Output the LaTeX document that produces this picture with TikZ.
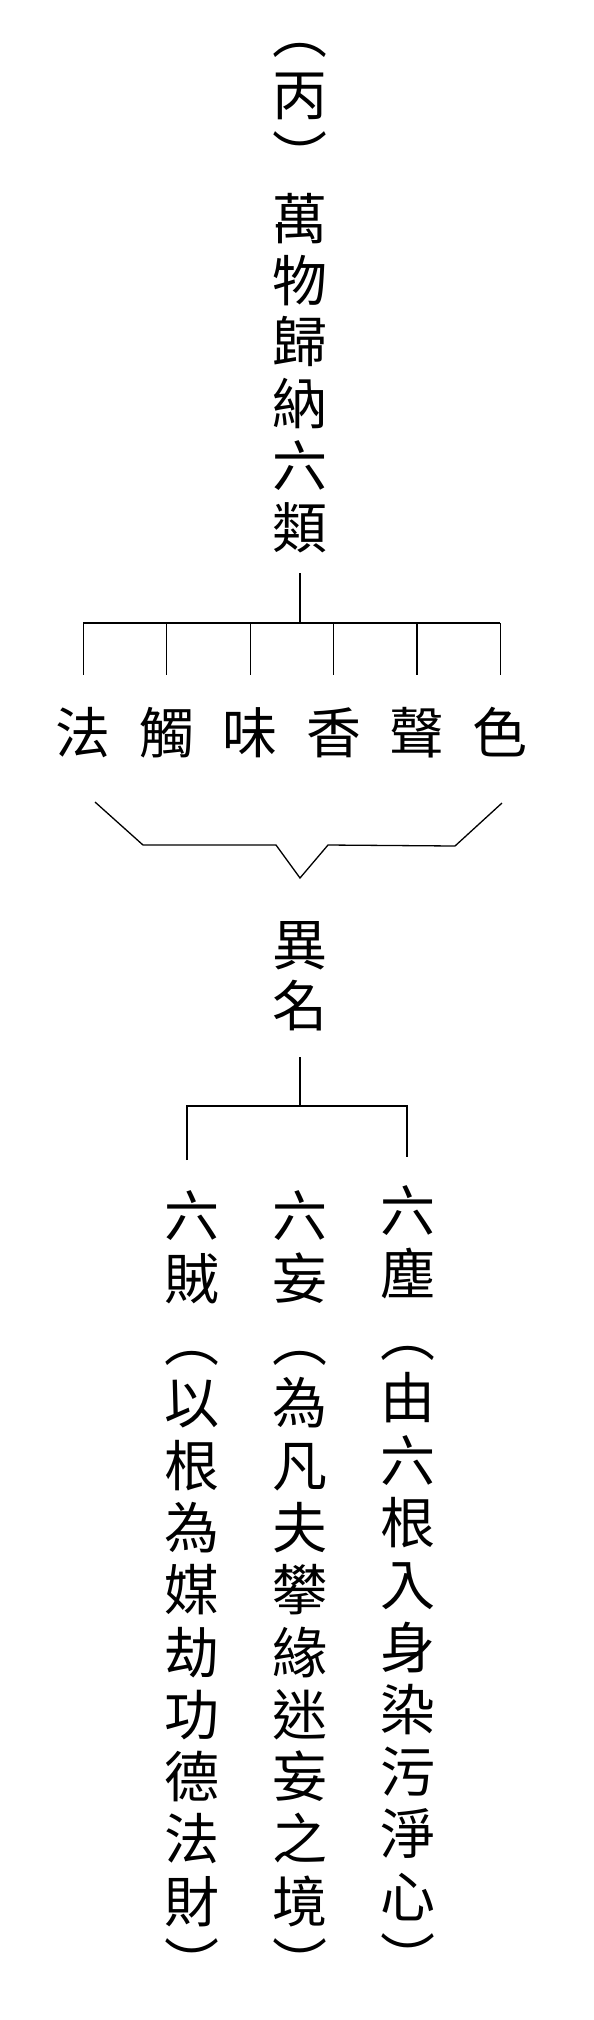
\documentclass[tikz,border=0pt]{standalone}
\usepackage{fontspec}
\usepackage{tikz}
\newfontfamily\cjk{Noto Sans CJK TC}

\begin{document}
\begin{tikzpicture}[x=0.5pt,y=-0.5pt,
    zi/.style={font=\cjk\fontsize{27.5pt}{31pt}\selectfont, inner sep=0pt,
               text height=24.2pt, text depth=3.3pt},
    line/.style={line width=0.65pt}]

    \useasboundingbox (0,0) rectangle (594,2020);

    %--------------------------------
    % 標題（直排）
    %--------------------------------
    \foreach \ch [count=\k from 0] in {︵,丙,︶,萬,物,歸,納,六,類}{
        \node[zi] (ti\k) at (300,33+61.8*\k) {\ch};
    }

    %--------------------------------
    % 六類
    %--------------------------------
    \foreach \ch [count=\k] in {法,觸,味,香,聲,色}{
        \node[zi] (lei\k) at (83.4*\k,733) {\ch};
    }

    \coordinate (j1) at (300,623);
    \draw[line, shorten <=9pt] (ti8.south) -- (j1);
    \draw[line] (lei1.north |- j1) -- (lei6.north |- j1);
    \foreach \k in {1,...,6}{
        \draw[line, shorten >=15pt] (lei\k.north |- j1) -- (lei\k.north);
    }

    % 括號
    \draw[line] (95,802) -- (143,845) -- (276,845) -- (300,878)
        -- (328,845) -- (455,846) -- (502,803);

    %--------------------------------
    % 異名
    %--------------------------------
    \node[zi] (yi1) at (300,945) {異};
    \node[zi] (yi2) at (300,1006) {名};

    \coordinate (j2) at (300,1106);
    \coordinate (b2l) at (187,1160);
    \coordinate (b2r) at (407,1157);
    \draw[line, shorten <=11.75pt] (yi2.south) -- (j2);
    \draw[line] (b2l) |- (j2) -| (b2r);

    %--------------------------------
    % 六賊、六妄、六塵
    %--------------------------------
    \foreach \ch [count=\k from 0] in {六,賊,︵,以,根,為,媒,劫,功,德,法,財,︶}{
        \node[zi] (zei\k) at (192,1216+62.3*\k) {\ch};
    }
    \foreach \ch [count=\k from 0] in {六,妄,︵,為,凡,夫,攀,緣,迷,妄,之,境,︶}{
        \node[zi] (wang\k) at (300,1216+62.3*\k) {\ch};
    }
    \foreach \ch [count=\k from 0] in {六,塵,︵,由,六,根,入,身,染,污,淨,心,︶}{
        \node[zi] (chen\k) at (408,1211+62.3*\k) {\ch};
    }

\end{tikzpicture}
\end{document}
